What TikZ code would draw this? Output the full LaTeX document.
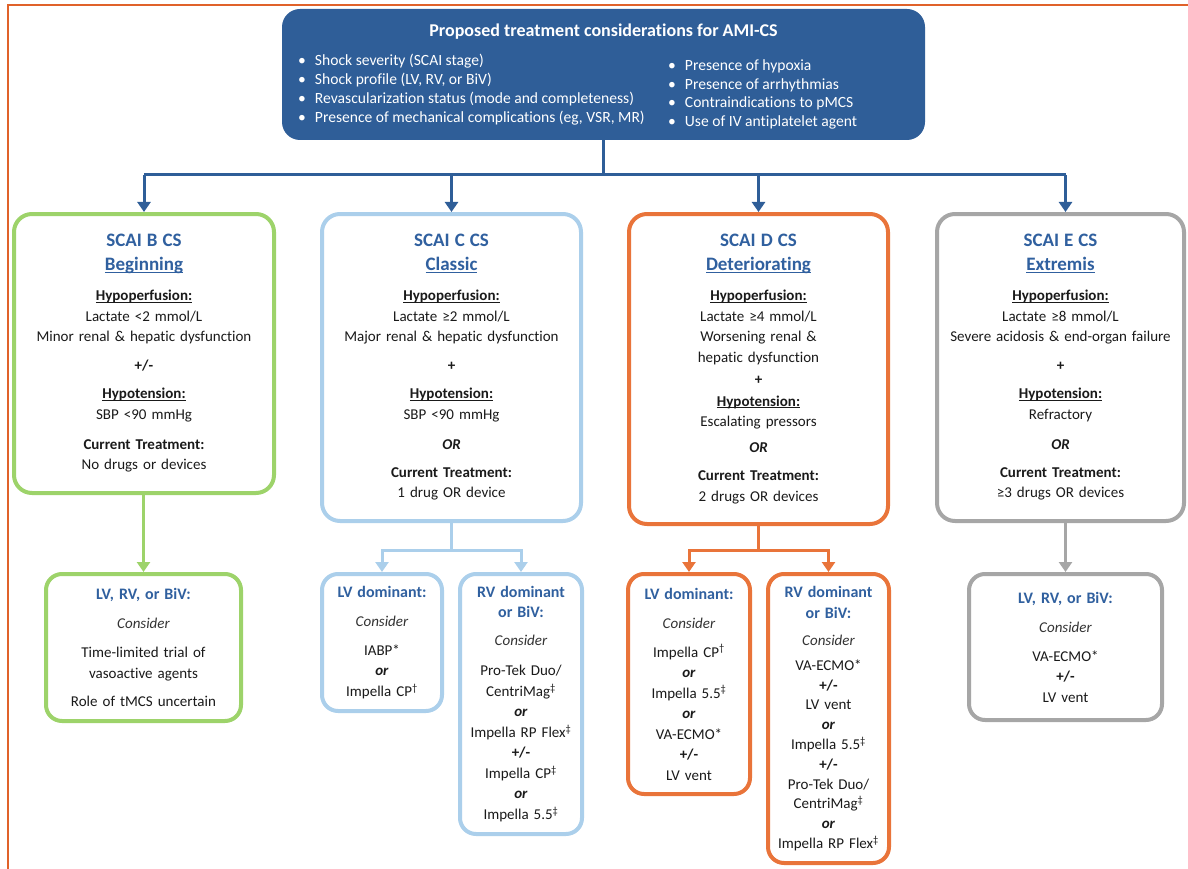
\documentclass[tikz,border=0pt]{standalone}
\usepackage{fontspec}
\setmainfont{Carlito}[Ligatures=NoCommon]
\usetikzlibrary{arrows.meta}

\definecolor{topblue}{HTML}{2F5E98}
\definecolor{headblue}{HTML}{30609F}
\definecolor{framered}{HTML}{E0622A}
\definecolor{bgreen}{HTML}{9DD36A}
\definecolor{cblue}{HTML}{ABCFEB}
\definecolor{dorange}{HTML}{E9743A}
\definecolor{egray}{HTML}{A6A6A6}
\definecolor{softblack}{HTML}{1A1A1A}

\newcommand\bodyfont{\fontsize{15}{20.5}\selectfont}
\newcommand\lineunder[1]{\leavevmode\setbox0=\hbox{#1}\rlap{\rule[-2.2pt]{\wd0}{1.1pt}}\box0}
\newcommand\stagehead[1]{\leavevmode{\fontsize{19}{24}\selectfont\bfseries\color{headblue}#1}}
\newcommand\subhead[1]{\leavevmode{\fontsize{16}{20}\selectfont\bfseries\color{headblue}#1}}
\newcommand\keyline[1]{\textbf{\lineunder{#1}}}
\newcommand\consider{\leavevmode{\itshape\color{black!80}Consider}}
\newcommand\orword{\textbf{\textit{or}}}
\newcommand\dagmark{\textsuperscript{†}}
\newcommand\ddagmark{\textsuperscript{‡}}

\tikzset{
  stagebox/.style={draw=#1, line width=4pt, rounded corners=18pt, fill=white,
    align=center, inner sep=0pt, font=\bodyfont, text=softblack},
  optionbox/.style={stagebox=#1, rounded corners=16pt},
  link/.style={line width=3pt},
  tip/.style={-{Triangle[width=13pt,length=10pt]}},
}

\begin{document}
\begin{tikzpicture}[x=1pt,y=-1pt]
  \useasboundingbox (0,0) rectangle (1188,869);
  % page frame
  \draw[framered, line width=2pt] (1188,5.5) -- (7.5,5.5) -- (7.5,869);

  % considerations
  \node[fill=topblue, rounded corners=18pt, minimum width=643pt, minimum height=131pt, inner sep=0pt] (topBox) at (603.5,74.5) {};
  \node[text=white, font=\fontsize{18}{22}\selectfont\bfseries] (topTitle) at (603.5,32) {Proposed treatment considerations for AMI-CS};
  \node[text=white, anchor=west, align=left, inner sep=0pt, font=\fontsize{15.6}{19}\selectfont] (topLeft) at (298,89.5)
    {\textbullet\hspace{9pt}Shock severity (SCAI stage)\\
     \textbullet\hspace{9pt}Shock profile (LV, RV, or BiV)\\
     \textbullet\hspace{9pt}Revascularization status (mode and completeness)\\
     \textbullet\hspace{9pt}Presence of mechanical complications (eg, VSR, MR)};
  \node[text=white, anchor=west, align=left, inner sep=0pt, font=\fontsize{15.6}{18.4}\selectfont] (topRight) at (668,94.5)
    {\textbullet\hspace{9pt}Presence of hypoxia\\
     \textbullet\hspace{9pt}Presence of arrhythmias\\
     \textbullet\hspace{9pt}Contraindications to pMCS\\
     \textbullet\hspace{9pt}Use of IV antiplatelet agent};

  % SCAI stages
  \node[stagebox=bgreen, text width=260pt, minimum height=279pt] (bBox) at (144,353.5)
    {\stagehead{SCAI B CS}\\[3.5pt]
     \stagehead{\lineunder{Beginning}}\\[9.5pt]
     \keyline{Hypoperfusion:}\\
     Lactate <2 mmol/L\\
     Minor renal \& hepatic dysfunction\\[8.5pt]
     \textbf{+/-}\\[7.5pt]
     \keyline{Hypotension:}\\
     SBP <90 mmHg\\[9.5pt]
     \textbf{Current Treatment:}\\
     No drugs or devices};
  \node[stagebox=cblue, text width=259pt, minimum height=307pt] (cBox) at (451.5,367.5)
    {\stagehead{SCAI C CS}\\[3.5pt]
     \stagehead{\lineunder{Classic}}\\[9.5pt]
     \keyline{Hypoperfusion:}\\
     Lactate ≥2 mmol/L\\
     Major renal \& hepatic dysfunction\\[8.5pt]
     \textbf{+}\\[7.5pt]
     \keyline{Hypotension:}\\
     SBP <90 mmHg\\[9.5pt]
     \textbf{\textit{OR}}\\[7.5pt]
     \textbf{Current Treatment:}\\
     1 drug OR device};
  \node[stagebox=dorange, text width=259pt, minimum height=310pt] (dBox) at (758.5,369)
    {\stagehead{SCAI D CS}\\[3.5pt]
     \stagehead{\lineunder{Deteriorating}}\\[9.5pt]
     \keyline{Hypoperfusion:}\\
     Lactate ≥4 mmol/L\\
     Worsening renal \&\\
     hepatic dysfunction\\[1.5pt]
     \textbf{+}\\[1.5pt]
     \keyline{Hypotension:}\\
     Escalating pressors\\[5.5pt]
     \textbf{\textit{OR}}\\[7.5pt]
     \textbf{Current Treatment:}\\
     2 drugs OR devices};
  \node[stagebox=egray, text width=247pt, minimum height=307pt] (eBox) at (1060.5,367.5)
    {\stagehead{SCAI E CS}\\[3.5pt]
     \stagehead{\lineunder{Extremis}}\\[9.5pt]
     \keyline{Hypoperfusion:}\\
     Lactate ≥8 mmol/L\\
     Severe acidosis \& end-organ failure\\[8.5pt]
     \textbf{+}\\[7.5pt]
     \keyline{Hypotension:}\\
     Refractory\\[9.5pt]
     \textbf{\textit{OR}}\\[7.5pt]
     \textbf{Current Treatment:}\\
     ≥3 drugs OR devices};

  % options
  \node[optionbox=bgreen, text width=195pt, minimum height=147pt] (bSub) at (143.5,647.5)
    {\subhead{LV, RV, or BiV:}\\[8.5pt]
     \consider\\[8.5pt]
     Time-limited trial of\\
     vasoactive agents\\[7.5pt]
     Role of tMCS uncertain};
  \node[optionbox=cblue, text width=120pt, minimum height=137pt] (cLV) at (382,642.5)
    {\subhead{LV dominant:}\\[8.5pt]
     \consider\\[8.5pt]
     IABP*\\
     \orword\\
     Impella CP\dagmark};
  \node[optionbox=cblue, text width=122pt, minimum height=260pt] (cRV) at (521,704)
    {\subhead{RV dominant}\\
     \subhead{or BiV:}\\[7.5pt]
     \consider\\[9.5pt]
     Pro-Tek Duo/\\
     CentriMag\ddagmark\\
     \orword\\
     Impella RP Flex\ddagmark\\
     \textbf{+/-}\\
     Impella CP\ddagmark\\
     \orword\\
     Impella 5.5\ddagmark};
  \node[optionbox=dorange, text width=122pt, minimum height=220pt] (dLV) at (689,684)
    {\subhead{LV dominant:}\\[8.5pt]
     \consider\\[8.5pt]
     Impella CP\dagmark\\
     \orword\\
     Impella 5.5\ddagmark\\
     \orword\\
     VA-ECMO*\\
     \textbf{+/-}\\
     LV vent};
  \node[optionbox=dorange, text width=121pt, minimum height=289pt, font=\fontsize{15}{19.8}\selectfont] (dRV) at (828.5,718.5)
    {\subhead{RV dominant}\\[1.2pt]
     \subhead{or BiV:}\\[7.2pt]
     \consider\\[5.2pt]
     VA-ECMO*\\
     \textbf{+/-}\\
     LV vent\\
     \orword\\
     Impella 5.5\ddagmark\\
     \textbf{+/-}\\
     Pro-Tek Duo/\\
     CentriMag\ddagmark\\
     \orword\\
     Impella RP Flex\ddagmark};
  \node[optionbox=egray, text width=193pt, minimum height=146pt] (eSub) at (1065.5,647)
    {\subhead{LV, RV, or BiV:}\\[8.5pt]
     \consider\\[8.5pt]
     VA-ECMO*\\
     \textbf{+/-}\\
     LV vent};

  % connectors
  \coordinate (topFork) at (603.5,175);
  \coordinate (cFork) at (451.5,550);
  \coordinate (dFork) at (758.5,550);
  \draw[link, topblue] (topBox.south) -- (topFork);
  \draw[link, topblue] (bBox.north |- topFork) -- (eSub.north |- topFork);
  \draw[link, topblue, tip] (bBox.north |- topFork) -- (bBox.north);
  \draw[link, topblue, tip] (cBox.north |- topFork) -- (cBox.north);
  \draw[link, topblue, tip] (dBox.north |- topFork) -- (dBox.north);
  \draw[link, topblue, tip] (eSub.north |- topFork) -- (eSub.north |- eBox.north);

  \draw[link, bgreen, tip] (bSub.north |- bBox.south) -- (bSub.north);
  \draw[link, cblue] (cBox.south) -- (cFork);
  \draw[link, cblue, tip] (cFork) -| (cLV.north);
  \draw[link, cblue, tip] (cFork) -| (cRV.north);
  \draw[link, dorange] (dBox.south) -- (dFork);
  \draw[link, dorange, tip] (dFork) -| (dLV.north);
  \draw[link, dorange, tip] (dFork) -| (dRV.north);
  \draw[link, egray, tip] (eSub.north |- eBox.south) -- (eSub.north);
\end{tikzpicture}
\end{document}
